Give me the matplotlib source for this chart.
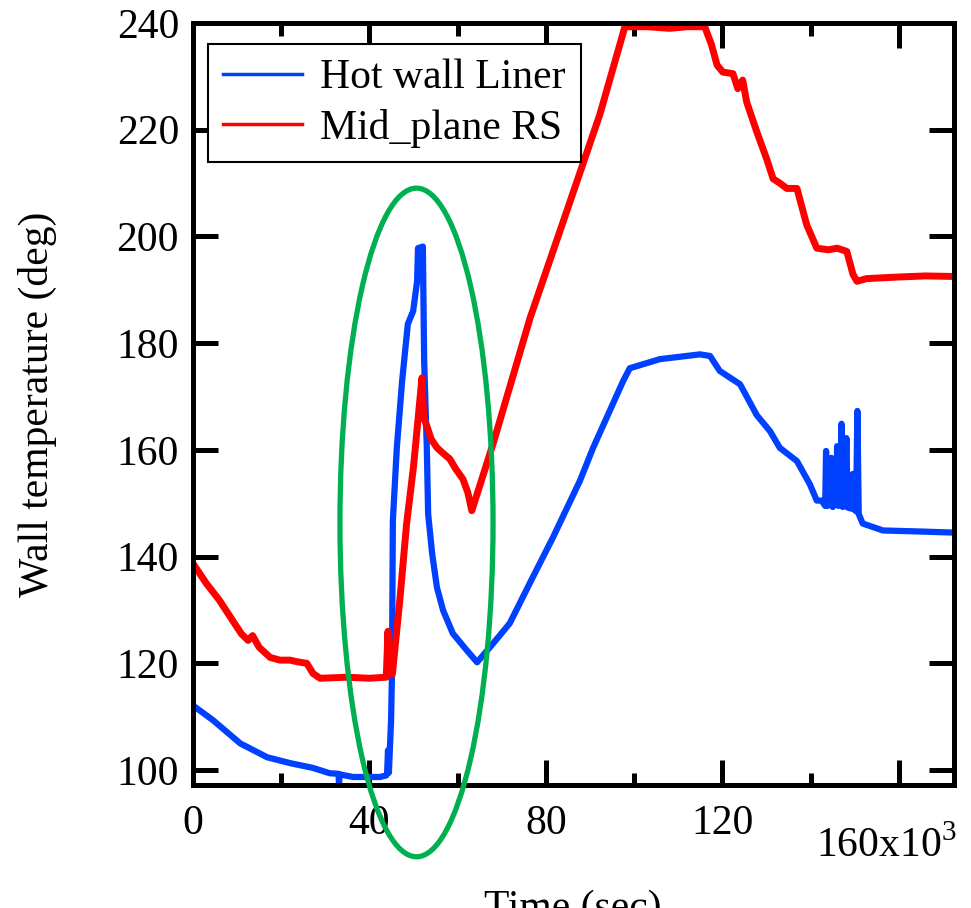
import matplotlib
matplotlib.use('Agg')
import matplotlib.pyplot as plt
from matplotlib.lines import Line2D
from matplotlib.patches import Ellipse
from matplotlib.ticker import MultipleLocator

plt.rcParams['font.family'] = ['Liberation Serif', 'DejaVu Serif']
plt.rcParams['mathtext.fontset'] = 'custom'
plt.rcParams['mathtext.rm'] = 'Liberation Serif'

# time in 1e3 sec, temperature in deg
hot_t = [0, 4.6, 10.7, 16.8, 22, 27.2, 31, 33.0, 33.1, 33.2, 36.3, 42.4, 43.8,
         44.0, 44.2, 44.4, 44.9, 45.1, 45.3, 46.2, 47.4, 48.7, 49.9, 50.8, 51.0,
         52.1, 52.4, 53.0, 53.3, 54.2, 55.3, 56.7, 58.9, 62.1, 64.4, 67.3, 71.8,
         77, 81.6, 87.7, 90.7, 97.5, 99, 105.8, 114.9, 117.2, 119.4, 124, 127.8,
         130.8, 133, 136.9, 139.8, 141.4, 142.5, 143.3, 143.5, 143.8, 144.5, 144.7,
         145.0, 145.8, 146.0, 146.3, 146.8, 147.0, 147.3, 147.8, 148.1, 148.4,
         149.2, 149.6, 149.9, 150.3, 150.6, 150.9, 151.8, 156.4, 165, 172.5]
hot_v = [112.1, 109.3, 105.0, 102.4, 101.3, 100.4, 99.4, 99.3, 97.2, 99.2, 98.7, 98.7, 99.0,
         99.4, 103.7, 99.5, 109.3, 118.1, 146.7, 160.4, 172.9, 183.6, 186.0, 191.6, 197.8,
         198.1, 176.6, 160.4, 148.0, 140.6, 134.2, 129.9, 125.6, 122.4, 120.2, 123.0, 127.5,
         136.1, 143.6, 154.2, 160.4, 172.9, 175.3, 177.0, 177.9, 177.6, 174.8, 172.3, 166.5,
         163.5, 160.4, 157.9, 153.6, 150.5, 150.5, 149.5, 159.8, 149.5, 150.0, 158.5,
         149.3, 150.0, 160.7, 149.5, 150.5, 164.9, 149.3, 150.0, 162.2, 149.2,
         149.0, 155.5, 148.8, 148.5, 167.3, 148.0, 146.2, 144.9, 144.7, 144.5]

mid_t = [0, 3, 6, 9, 11, 12.5, 13.5, 15, 17.5, 19.7, 22, 23.6, 25.8, 27.2, 28.8,
         35, 40, 43.8, 44.2, 44.5, 45.2, 46.9, 48.4, 50, 51.9, 52.3, 53, 54, 55.3,
         56.5, 58.2, 59.5, 61.2, 62.3, 63.2, 68, 76.4, 84, 92.2, 97.9, 103, 108,
         112, 116, 117.5, 118.8, 120.1, 122.4, 123.5, 124.6, 125.5, 127.8, 130,
         131.5, 133, 134.6, 136.9, 139.1, 141.4, 144, 146, 148.2, 149.6, 150.5,
         152.7, 160, 166, 172.5]
mid_v = [138.7, 135.0, 131.8, 128.0, 125.5, 124.3, 125.2, 123.0, 121.1, 120.6, 120.6, 120.3, 120.0, 118.1, 117.2,
         117.4, 117.2, 117.4, 126.0, 118.0, 118.0, 132.0, 146.0, 157.0, 173.5, 166.0, 164.5, 162.0, 160.4,
         159.5, 158.3, 156.5, 154.5, 152.0, 148.6, 161.1, 184.7, 203.0, 222.8, 239.3, 239.3, 239.0,
         239.3, 239.3, 236.0, 232.1, 230.8, 230.5, 227.7, 229.3, 225.2, 219.6, 214.6,
         210.8, 210.0, 209.0, 209.0, 202.2, 197.8, 197.5, 197.8, 197.2, 192.9, 191.6,
         192.1, 192.4, 192.6, 192.5]

labels = ['Hot wall Liner', 'Mid_plane RS']
colors = ['#0040FF', '#FF0000']

fig = plt.figure(figsize=(9.71, 9.08), dpi=100)
ax = fig.add_axes([193/971, 1 - 785/908, (954 - 193)/971, (785 - 23)/908])

ax.plot([t * 1e3 for t in hot_t], hot_v, color=colors[0], lw=4.5, solid_joinstyle='round')
ax.plot([t * 1e3 for t in mid_t], mid_v, color=colors[1], lw=5, solid_joinstyle='round')

ell = Ellipse((50.66e3, 146.4), 34.7e3, 125.3, fill=False, edgecolor='#00B050',
              lw=3.8, clip_on=False, zorder=5)
ax.add_patch(ell)

ax.set_xlim(0, 172.5e3)
ax.set_ylim(97.2, 240)
ax.xaxis.set_minor_locator(MultipleLocator(20e3))
ax.yaxis.set_major_locator(MultipleLocator(20))
ax.set_xticks([0, 40e3, 80e3, 120e3, 160e3])
ax.set_xticklabels(['0', '40', '80', '120', ''])

for s in ax.spines.values():
    s.set_linewidth(3.6)
ax.tick_params(which='both', direction='in', top=True, right=True, width=3.6,
               labelsize=30)
ax.tick_params(which='major', length=18)
ax.tick_params(which='minor', length=9)
ax.tick_params(axis='x', pad=14)
ax.tick_params(axis='y', pad=10)

fig.text(957/971, 1 - 857/908, r'160x10$^{3}$', fontsize=30, ha='right', va='baseline')

ax.set_ylabel('Wall temperature (deg)', fontsize=30, labelpad=43)
# the reference crops this label at the bottom edge
fig.text(573/971, 1 - 890/908, 'Time (sec)', fontsize=30, ha='center', va='top')

handles = [Line2D([0], [0], color=c, lw=2.5) for c in colors]
leg = ax.legend(handles, labels, loc='upper left', bbox_to_anchor=(0.0197, 0.9724),
                borderaxespad=0, fontsize=30, handlelength=1.9, handletextpad=0.45,
                borderpad=0.35, labelspacing=0.28, fancybox=False, framealpha=1)
leg.get_frame().set_edgecolor('black')
leg.get_frame().set_linewidth(1.5)

fig.savefig('out.png', dpi=100)
